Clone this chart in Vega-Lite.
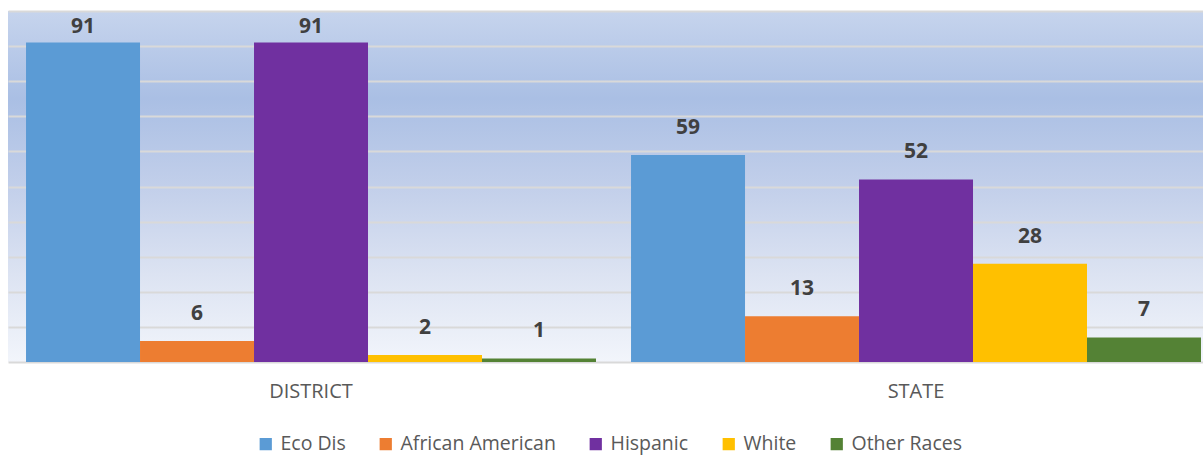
{
  "$schema": "https://vega.github.io/schema/vega-lite/v6.json",
  "width": 1195,
  "height": 351,
  "autosize": {"type": "none"},
  "padding": {"left": 8, "top": 11, "right": 0, "bottom": 93},
  "background": "white",
  "config": {
    "view": {
      "stroke": null,
      "fill": {
        "gradient": "linear",
        "x1": 0, "y1": 0, "x2": 0, "y2": 1,
        "stops": [
          {"offset": 0, "color": "#c6d4ed"},
          {"offset": 0.25, "color": "#aabfe4"},
          {"offset": 0.5, "color": "#c2cfea"},
          {"offset": 0.75, "color": "#dce3f2"},
          {"offset": 1, "color": "#f2f5fb"}
        ]
      }
    },
    "font": "Open Sans"
  },
  "data": {
    "values": [
      {"group": "DISTRICT", "series": "Eco Dis", "value": 91},
      {"group": "DISTRICT", "series": "African American", "value": 6},
      {"group": "DISTRICT", "series": "Hispanic", "value": 91},
      {"group": "DISTRICT", "series": "White", "value": 2},
      {"group": "DISTRICT", "series": "Other Races", "value": 1},
      {"group": "STATE", "series": "Eco Dis", "value": 59},
      {"group": "STATE", "series": "African American", "value": 13},
      {"group": "STATE", "series": "Hispanic", "value": 52},
      {"group": "STATE", "series": "White", "value": 28},
      {"group": "STATE", "series": "Other Races", "value": 7}
    ]
  },
  "encoding": {
    "x": {
      "field": "group",
      "type": "nominal",
      "scale": {"paddingInner": 0.0579, "paddingOuter": 0.01655, "align": 0.9},
      "axis": {
        "title": null,
        "labelAngle": 0,
        "labelFontSize": 20,
        "labelColor": "#595959",
        "labelPadding": 19,
        "ticks": false,
        "domain": true,
        "domainColor": "#d9d9d9",
        "domainWidth": 2,
        "grid": false
      }
    },
    "xOffset": {
      "field": "series",
      "type": "nominal",
      "sort": ["Eco Dis", "African American", "Hispanic", "White", "Other Races"],
      "scale": {"paddingInner": 0, "paddingOuter": 0}
    },
    "y": {
      "field": "value",
      "type": "quantitative",
      "scale": {"domain": [0, 100], "nice": false},
      "axis": {
        "title": null,
        "labels": false,
        "ticks": false,
        "domain": false,
        "grid": true,
        "gridColor": "#d9d9d9",
        "gridWidth": 2,
        "values": [10, 20, 30, 40, 50, 60, 70, 80, 90, 100]
      }
    }
  },
  "layer": [
    {
      "mark": {"type": "bar"},
      "encoding": {
        "color": {
          "field": "series",
          "type": "nominal",
          "sort": ["Eco Dis", "African American", "Hispanic", "White", "Other Races"],
          "scale": {
            "domain": ["Eco Dis", "African American", "Hispanic", "White", "Other Races"],
            "range": ["#5b9bd5", "#ed7d31", "#7030a0", "#ffc000", "#548235"]
          },
          "legend": {
            "title": null,
            "orient": "none",
            "legendX": 248,
            "legendY": 423,
            "direction": "horizontal",
            "symbolType": "square",
            "symbolSize": 150,
            "symbolStrokeWidth": 0,
            "labelFontSize": 19.5,
            "labelColor": "#595959",
            "columnPadding": 30,
            "labelOffset": 5
          }
        }
      }
    },
    {
      "transform": [{"filter": "datum.value < 90"}],
      "mark": {"type": "text", "baseline": "middle", "dy": -27, "fontSize": 21, "fontWeight": "bold", "color": "#404040"},
      "encoding": {
        "text": {"field": "value", "type": "quantitative"}
      }
    },
    {
      "transform": [{"filter": "datum.value >= 90"}],
      "mark": {"type": "text", "baseline": "middle", "dy": -16, "fontSize": 21, "fontWeight": "bold", "color": "#404040"},
      "encoding": {
        "text": {"field": "value", "type": "quantitative"}
      }
    }
  ]
}
